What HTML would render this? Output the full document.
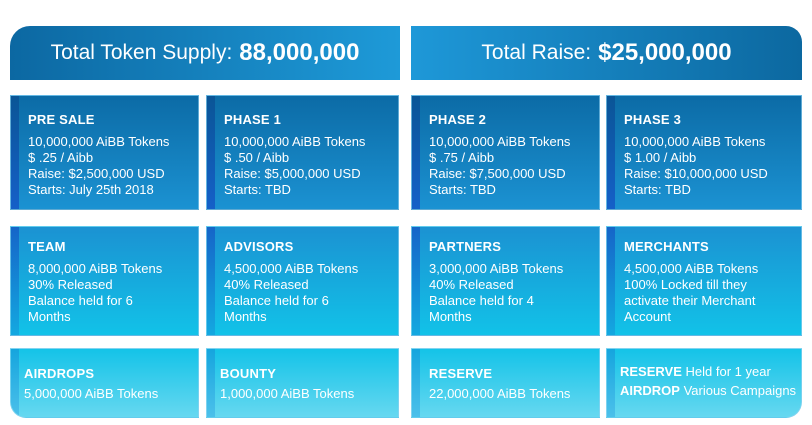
<!DOCTYPE html>
<html><head><meta charset="utf-8"><style>
body{margin:0;width:812px;height:425px;background:#fff;position:relative;overflow:hidden;font-family:"Liberation Sans",sans-serif;color:#fff}
.b{position:absolute;box-sizing:border-box;border:1px solid rgba(150,210,240,.6)}
.acc{position:absolute;left:0;top:0;bottom:0;width:8px}
.r1{background:linear-gradient(#0c6ba6,#1b92d2)}
.r1 .acc{background:linear-gradient(#0a5596,#1560c8)}
.r2{background:linear-gradient(#1b92d2,#12c2e8)}
.r2 .acc{background:linear-gradient(#1565c8,#14a8e0)}
.r3{background:linear-gradient(#14c3e8,#66d8f0)}
.r3 .acc{background:linear-gradient(#15a5de,#4cc0ea)}
.t{position:absolute;left:17px;font-weight:bold;font-size:13px;letter-spacing:.2px}
.l{position:absolute;left:17px;font-size:13px;line-height:16px;white-space:nowrap}
.ban{position:absolute;top:26px;height:54px;font-size:21px;display:flex;align-items:center;justify-content:center;box-sizing:border-box}
.ban b{font-size:24px;margin-left:7px}
</style></head><body>
<div class="ban" style="left:10px;width:390px;border-top-left-radius:20px;background:linear-gradient(90deg,#0c68a2,#1e9ad8)">Total Token Supply:<b>88,000,000</b></div>
<div class="ban" style="left:411px;width:391px;border-top-right-radius:16px;background:linear-gradient(90deg,#1e98d8,#0c68a0)">Total Raise:<b>$25,000,000</b></div>

<div class="b r1" style="left:10px;top:95px;width:189px;height:115px"><div class="acc"></div><div class="t" style="top:16px">PRE SALE</div><div class="l" style="top:38px">10,000,000 AiBB Tokens<br>$ .25 / Aibb<br>Raise: $2,500,000 USD<br>Starts: July 25th 2018</div></div>
<div class="b r1" style="left:206px;top:95px;width:193px;height:115px"><div class="acc"></div><div class="t" style="top:16px">PHASE 1</div><div class="l" style="top:38px">10,000,000 AiBB Tokens<br>$ .50 / Aibb<br>Raise: $5,000,000 USD<br>Starts: TBD</div></div>
<div class="b r1" style="left:411px;top:95px;width:189px;height:115px"><div class="acc"></div><div class="t" style="top:16px">PHASE 2</div><div class="l" style="top:38px">10,000,000 AiBB Tokens<br>$ .75 / Aibb<br>Raise: $7,500,000 USD<br>Starts: TBD</div></div>
<div class="b r1" style="left:606px;top:95px;width:196px;height:115px"><div class="acc"></div><div class="t" style="top:16px">PHASE 3</div><div class="l" style="top:38px">10,000,000 AiBB Tokens<br>$ 1.00 / Aibb<br>Raise: $10,000,000 USD<br>Starts: TBD</div></div>

<div class="b r2" style="left:10px;top:226px;width:189px;height:110px"><div class="acc"></div><div class="t" style="top:12px">TEAM</div><div class="l" style="top:34px">8,000,000 AiBB Tokens<br>30% Released<br>Balance held for 6<br>Months</div></div>
<div class="b r2" style="left:206px;top:226px;width:193px;height:110px"><div class="acc"></div><div class="t" style="top:12px">ADVISORS</div><div class="l" style="top:34px">4,500,000 AiBB Tokens<br>40% Released<br>Balance held for 6<br>Months</div></div>
<div class="b r2" style="left:411px;top:226px;width:189px;height:110px"><div class="acc"></div><div class="t" style="top:12px">PARTNERS</div><div class="l" style="top:34px">3,000,000 AiBB Tokens<br>40% Released<br>Balance held for 4<br>Months</div></div>
<div class="b r2" style="left:606px;top:226px;width:196px;height:110px"><div class="acc"></div><div class="t" style="top:12px">MERCHANTS</div><div class="l" style="top:34px">4,500,000 AiBB Tokens<br>100% Locked till they<br>activate their Merchant<br>Account</div></div>

<div class="b r3" style="left:10px;top:348px;width:189px;height:70px;border-bottom-left-radius:16px;overflow:hidden"><div class="acc"></div><div class="t" style="top:17px;left:13px">AIRDROPS</div><div class="l" style="top:37px;left:13px">5,000,000 AiBB Tokens</div></div>
<div class="b r3" style="left:206px;top:348px;width:193px;height:70px"><div class="acc"></div><div class="t" style="top:17px;left:13px">BOUNTY</div><div class="l" style="top:37px;left:13px">1,000,000 AiBB Tokens</div></div>
<div class="b r3" style="left:411px;top:348px;width:189px;height:70px"><div class="acc"></div><div class="t" style="top:17px">RESERVE</div><div class="l" style="top:37px">22,000,000 AiBB Tokens</div></div>
<div class="b r3" style="left:606px;top:348px;width:196px;height:70px;border-bottom-right-radius:16px;overflow:hidden"><div class="acc"></div><div class="l" style="top:15px;left:13px"><b>RESERVE</b> Held for 1 year</div><div class="l" style="top:34px;left:13px"><b>AIRDROP</b> Various Campaigns</div></div>
</body></html>
